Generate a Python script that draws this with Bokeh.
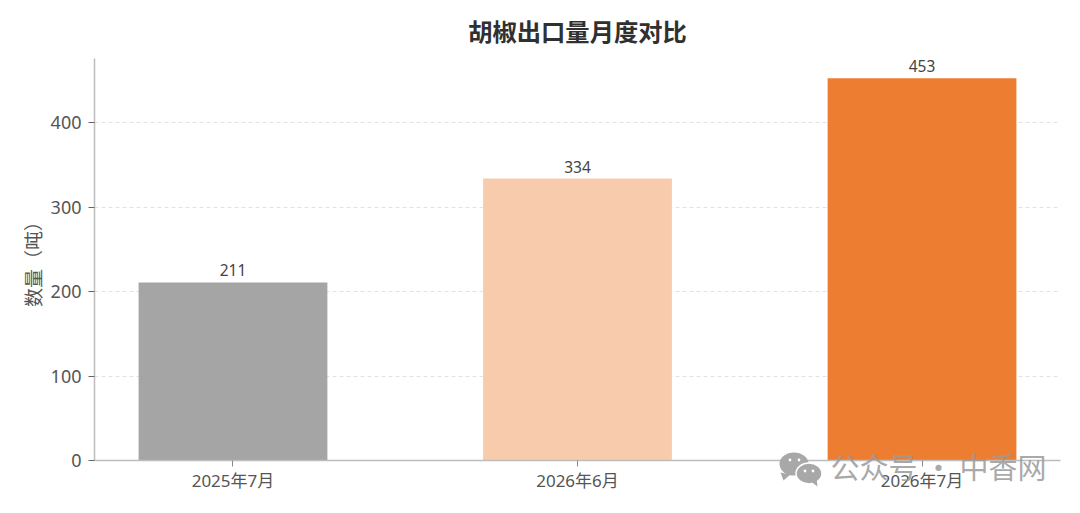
from bokeh.plotting import figure
from bokeh.models import Range1d, ColumnDataSource, FixedTicker
from bokeh.layouts import column
from bokeh.core.properties import value
from bokeh.embed import file_html
from bokeh.resources import INLINE

categories = ["2025年7月", "2026年6月", "2026年7月"]
values = [211, 334, 453]
colors = ["#a5a5a5", "#f8cbad", "#ed7d31"]
y_ticks = [0, 100, 200, 300, 400]
watermark = "公众号  ·  中香网"

FONT = "'Noto Sans','Noto Sans CJK SC'"
CJK = "'Noto Sans CJK SC'"

xs = list(range(len(categories)))
src = ColumnDataSource(dict(x=xs, top=values, color=colors, label=[str(v) for v in values]))

p = figure(width=1072, height=505, output_backend="svg", toolbar_location=None,
           x_range=Range1d(-0.402, 2.402), y_range=Range1d(0, 476.3),
           min_border_left=94, min_border_right=12, min_border_top=58, min_border_bottom=45,
           frame_width=966, frame_height=402,
           title="胡椒出口量月度对比")
p.title.align = "center"
p.title.text_font = CJK
p.title.text_font_size = "24.3px"
p.title.text_font_style = "bold"
p.title.text_color = "#303030"
p.title.standoff = 21
p.outline_line_color = None
p.background_fill_color = "white"

p.xgrid.visible = False
p.ygrid.grid_line_color = "#e2e2e2"
p.ygrid.grid_line_dash = "4 3"
p.ygrid.grid_line_width = 1
p.ygrid.level = "underlay"

p.vbar(x="x", top="top", width=0.548, bottom=0, fill_color="color", line_color=None, source=src)
p.text(x="x", y="top", text="label", source=src, text_align="center", text_baseline="bottom",
       y_offset=-6, text_font=value("Noto Sans"), text_font_size="15.5px", text_color="#444444")

p.xaxis.ticker = FixedTicker(ticks=xs)
p.xaxis.major_label_overrides = dict(zip(xs, categories))
p.xaxis.major_label_text_font = FONT
p.xaxis.major_label_text_font_size = "17px"
p.xaxis.major_label_text_color = "#555555"
p.xaxis.major_tick_line_color = "#888888"
p.xaxis.major_tick_in = 0
p.xaxis.major_tick_out = 6
p.xaxis.minor_tick_line_color = None
p.xaxis.axis_line_color = "#bdbdbd"
p.xaxis.axis_line_width = 1.5
p.xaxis.major_label_standoff = 2

p.yaxis.ticker = FixedTicker(ticks=y_ticks)
p.yaxis.major_label_text_font = FONT
p.yaxis.major_label_text_font_size = "18px"
p.yaxis.major_label_text_color = "#555555"
p.yaxis.major_tick_line_color = "#666666"
p.yaxis.major_tick_in = 0
p.yaxis.major_tick_out = 6
p.yaxis.minor_tick_line_color = None
p.yaxis.axis_line_color = "#bdbdbd"
p.yaxis.axis_line_width = 1.5
p.yaxis.major_label_standoff = 7
p.yaxis.axis_label = "数量（吨）"
p.yaxis.axis_label_text_font = CJK
p.yaxis.axis_label_text_font_size = "19px"
p.yaxis.axis_label_text_font_style = "normal"
p.yaxis.axis_label_text_color = "#555555"
p.yaxis.axis_label_standoff = 2

# watermark: a transparent figure laid over the lower right corner, in page pixels
WM_GRAY = "#a8a8a8"
wm = figure(width=394, height=55, frame_width=300, frame_height=55,
            output_backend="svg", toolbar_location=None,
            x_range=Range1d(765, 1065), y_range=Range1d(495, 440),
            min_border=0, min_border_left=94, x_axis_type=None, y_axis_type=None,
            background_fill_color=None, border_fill_color=None, outline_line_color=None)
wm.grid.visible = False
wm.margin = 0
wm.styles = {"position": "absolute", "left": "671px", "top": "440px"}
wm.patch([780, 783, 790], [472, 480, 474], fill_color=WM_GRAY, line_color=None)
wm.ellipse(793.5, 463.5, width=29, height=23, fill_color=WM_GRAY, line_color=None)
wm.ellipse(808.5, 473, width=26, height=21, fill_color=WM_GRAY, line_color="white", line_width=1.5)
wm.patch([809, 817, 816], [480, 486, 478], fill_color=WM_GRAY, line_color=None)
wm.circle([789.5, 798.5, 804.5, 812.5], [459.5, 459.5, 470.5, 470.5], radius=1.4,
          fill_color="white", line_color=None)
wm.text([830], [486], text=[watermark], text_font=value("Noto Sans CJK SC"), text_font_size="29px",
        text_color="#9a9a9a", text_alpha=0.85, text_baseline="bottom")

open("out.html", "w").write(file_html(column(p, wm, spacing=0), INLINE))
